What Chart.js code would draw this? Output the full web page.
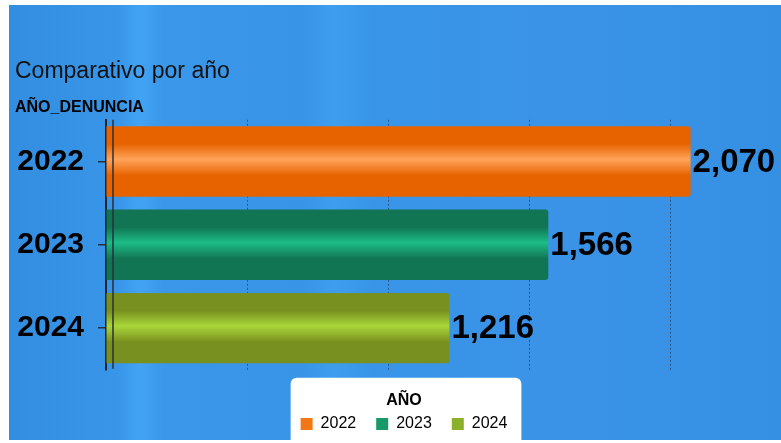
<!DOCTYPE html>
<html>
<head>
<meta charset="utf-8">
<script src="https://cdn.jsdelivr.net/npm/chart.js@4.4.1/dist/chart.umd.min.js"></script>
<style>
    body { margin: 0; background: #ffffff; }
    #wrap { position: relative; width: 781px; height: 443px; }
    #bg {
        position: absolute; left: 9px; top: 5px; right: 0; bottom: 3px;
        background: linear-gradient(90deg, #338ee0 0%, #3895e8 14%, #42a3f4 17%, #3a97ea 20%, #3794e7 38%, #3e9eee 42%, #3895e8 47%, #3a93e6 70%, #3590e3 100%);
    }
    #chart { position: absolute; left: 0; top: 0; }
</style>
</head>
<body>
<div id="wrap">
    <div id="bg"></div>
    <canvas id="chart" width="781" height="443"></canvas>
</div>
<script>
var years = ['2022', '2023', '2024'];
var counts = [2070, 1566, 1216];
var gridValues = [0, 500, 1000, 1500, 2000];
var barDark = ['#e76300', '#117453', '#78901f'];
var barLight = ['#ffa35a', '#1dbd87', '#aad63a'];
var legendColors = ['#f47716', '#169868', '#8cb02a'];

var FONT = '"Liberation Sans", Arial, sans-serif';

function barFill(context) {
    var chart = context.chart;
    var i = context.dataIndex;
    if (i === undefined || !chart.chartArea) {
        return barDark[i || 0];
    }
    var yScale = chart.scales.y;
    var c = yScale.getPixelForValue(i);
    var half = yScale.height / years.length * 0.845 / 2;
    var g = chart.ctx.createLinearGradient(0, c - half, 0, c + half);
    g.addColorStop(0, barDark[i]);
    g.addColorStop(0.25, barDark[i]);
    g.addColorStop(0.47, barLight[i]);
    g.addColorStop(0.7, barDark[i]);
    g.addColorStop(1, barDark[i]);
    return g;
}

// white box behind the legend, and shift the legend a little to the right
var legendBox = {
    id: 'legendBox',
    afterLayout: function (chart) {
        chart.legend.left += 6;
        chart.legend.right += 6;
    },
    beforeDraw: function (chart) {
        var lg = chart.legend;
        var ctx = chart.ctx;
        var w = lg.lineWidths[0] + 4;
        var cx = (lg.left + lg.right) / 2 + 2;
        ctx.save();
        ctx.fillStyle = '#ffffff';
        ctx.beginPath();
        ctx.roundRect(cx - w / 2, lg.top + 8, w, lg.bottom - lg.top + 10, 6);
        ctx.fill();
        ctx.restore();
    }
};

// value labels at the end of each bar, plus the second axis line
var barLabels = {
    id: 'barLabels',
    afterDatasetsDraw: function (chart) {
        var ctx = chart.ctx;
        var area = chart.chartArea;
        ctx.save();
        ctx.strokeStyle = '#2a2f3a';
        ctx.lineWidth = 1.5;
        ctx.beginPath();
        ctx.moveTo(area.left + 7, area.top);
        ctx.lineTo(area.left + 7, area.bottom - 1);
        ctx.stroke();

        ctx.fillStyle = '#000000';
        ctx.font = 'bold 33px ' + FONT;
        ctx.textAlign = 'left';
        ctx.textBaseline = 'middle';
        chart.getDatasetMeta(0).data.forEach(function (bar, i) {
            ctx.fillText(counts[i].toLocaleString('en-US'), bar.x + 2, bar.y + 1);
        });
        ctx.restore();
    }
};

new Chart(document.getElementById('chart'), {
    type: 'bar',
    data: {
        labels: years,
        datasets: [{
            label: 'AÑO_DENUNCIA',
            data: counts,
            backgroundColor: barFill,
            borderWidth: 0,
            borderRadius: 3,
            borderSkipped: 'start',
            categoryPercentage: 1,
            barPercentage: 0.845
        }]
    },
    options: {
        indexAxis: 'y',
        responsive: false,
        animation: false,
        layout: { padding: { left: 15, right: 0, top: 0, bottom: 1 } },
        scales: {
            x: {
                min: 0,
                max: 2390,
                ticks: { display: false },
                afterBuildTicks: function (scale) {
                    scale.ticks = gridValues.map(function (v) { return { value: v }; });
                },
                border: { display: false, dash: [2, 2] },
                grid: {
                    color: 'rgba(40, 45, 70, 0.6)',
                    lineWidth: 1,
                    drawTicks: false
                },
                afterFit: function (scale) { scale.height = 0; }
            },
            y: {
                ticks: {
                    color: '#000000',
                    font: { family: FONT, size: 30, weight: 'bold' },
                    padding: 14
                },
                grid: {
                    offset: false,
                    drawOnChartArea: false,
                    tickLength: 8,
                    color: '#2a2f3a',
                    lineWidth: 1.5
                },
                border: { color: '#1e222a', width: 2 },
                afterFit: function (scale) { scale.width = 91; }
            }
        },
        plugins: {
            title: {
                display: true,
                text: 'Comparativo por año',
                align: 'start',
                color: '#111111',
                font: { family: FONT, size: 23, weight: 'normal', lineHeight: 1.2 },
                padding: { top: 58, bottom: 0 }
            },
            subtitle: {
                display: true,
                text: 'AÑO_DENUNCIA',
                align: 'start',
                color: '#000000',
                font: { family: FONT, size: 16, weight: 'bold', lineHeight: 1.2 },
                padding: { top: 12, bottom: 3 }
            },
            legend: {
                display: true,
                position: 'bottom',
                title: {
                    display: true,
                    text: 'AÑO',
                    color: '#000000',
                    font: { family: FONT, size: 16, weight: 'bold' },
                    padding: { top: 23, bottom: -16 }
                },
                labels: {
                    color: '#000000',
                    font: { family: FONT, size: 16 },
                    boxWidth: 12,
                    boxHeight: 12,
                    padding: 20,
                    generateLabels: function () {
                        return years.map(function (y, i) {
                            return {
                                text: y,
                                fillStyle: legendColors[i],
                                strokeStyle: legendColors[i],
                                lineWidth: 0,
                                index: i
                            };
                        });
                    }
                }
            },
            tooltip: { enabled: false }
        }
    },
    plugins: [legendBox, barLabels]
});
</script>
</body>
</html>
